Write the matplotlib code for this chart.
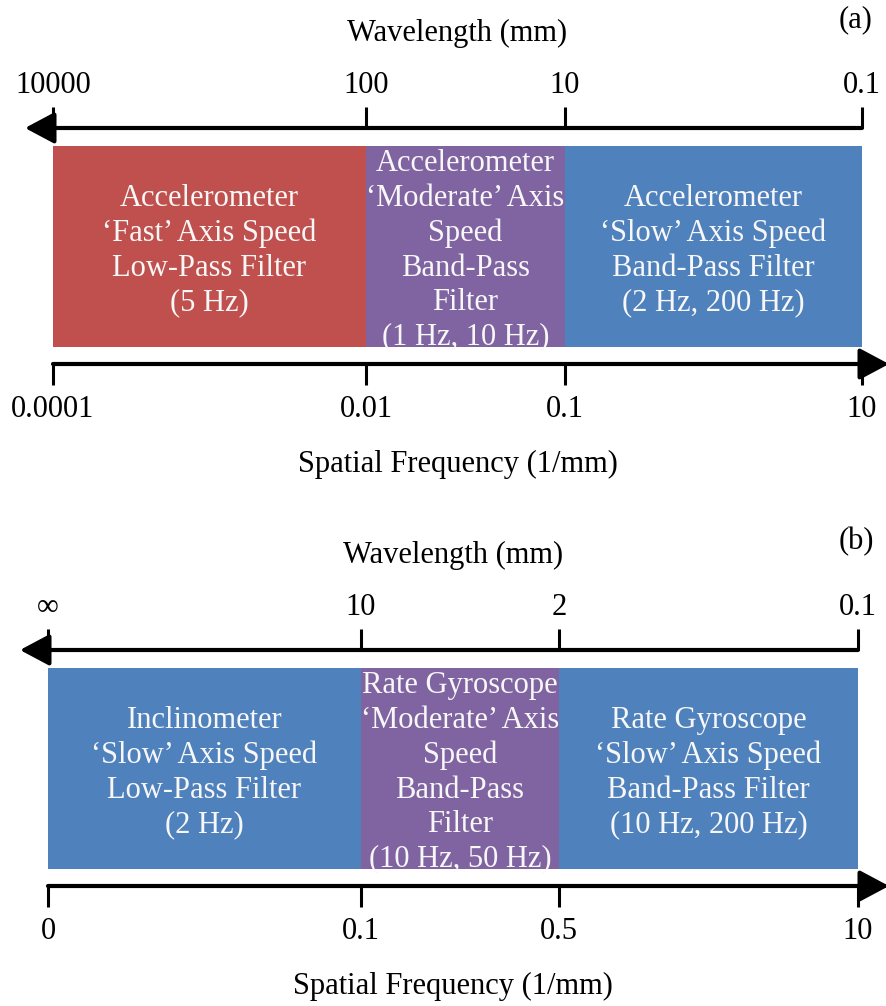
import matplotlib
matplotlib.use("Agg")
import matplotlib.pyplot as plt
from matplotlib.patches import Rectangle

# ---------------- data ----------------
wavelength_ticks_a = ["10000", "100", "10", "0.1"]
frequency_ticks_a = ["0.0001", "0.01", "0.1", "10"]
box_labels_a = [
    "Accelerometer\n\u2018Fast\u2019 Axis Speed\nLow-Pass Filter\n(5 Hz)",
    "Accelerometer\n\u2018Moderate\u2019 Axis\nSpeed\nBand-Pass\nFilter\n(1 Hz, 10 Hz)",
    "Accelerometer\n\u2018Slow\u2019 Axis Speed\nBand-Pass Filter\n(2 Hz, 200 Hz)",
]
box_colors_a = ["#C0504D", "#8064A2", "#4F81BD"]

wavelength_ticks_b = ["\u221e", "10", "2", "0.1"]
frequency_ticks_b = ["0", "0.1", "0.5", "10"]
box_labels_b = [
    "Inclinometer\n\u2018Slow\u2019 Axis Speed\nLow-Pass Filter\n(2 Hz)",
    "Rate Gyroscope\n\u2018Moderate\u2019 Axis\nSpeed\nBand-Pass\nFilter\n(10 Hz, 50 Hz)",
    "Rate Gyroscope\n\u2018Slow\u2019 Axis Speed\nBand-Pass Filter\n(10 Hz, 200 Hz)",
]
box_colors_b = ["#4F81BD", "#8064A2", "#4F81BD"]

panel_tags = ["(a)", "(b)"]
top_title = "Wavelength (mm)"
bottom_title = "Spatial Frequency (1/mm)"

# ---------------- layout (schematic, pixel-like units) ----------------
W, H = 887, 1006
edges_a = [53, 366, 565, 862]
edges_b = [48, 361, 559, 858]

FONT = ["Liberation Serif", "DejaVu Serif"]
FS = 22

fig = plt.figure(figsize=(W / 100, H / 100), dpi=100)
ax = fig.add_axes([0, 0, 1, 1])
ax.set_xlim(0, W)
ax.set_ylim(H, 0)
ax.axis("off")


def draw_panel(dy, edges, wl_ticks, fq_ticks, labels, colors, tag):
    mid = (edges[0] + edges[-1]) / 2
    top_y = 128 + dy
    bot_y = 364 + dy
    box_top = 146 + dy
    box_bot = 347 + dy
    # titles
    ax.text(mid, 41 + dy, top_title, ha="center", va="baseline",
            fontsize=FS, family=FONT)
    ax.text(856, 20 + dy, tag, ha="center", va="center",
            fontsize=FS, family=FONT)
    ax.text(mid, 472 + dy, bottom_title, ha="center", va="baseline",
            fontsize=FS, family=FONT)
    # boxes
    for i, (lab, col) in enumerate(zip(labels, colors)):
        x0, x1 = edges[i], edges[i + 1]
        ax.add_patch(Rectangle((x0, box_top), x1 - x0, box_bot - box_top,
                               facecolor=col, edgecolor="none"))
        ax.text((x0 + x1) / 2, (box_top + box_bot) / 2 + 4, lab,
                ha="center", va="center", fontsize=FS, family=FONT,
                color="#F7F7F7", linespacing=1.25)
    # top (wavelength) arrow pointing left
    ax.annotate("", xy=(edges[0] - 28, top_y), xytext=(edges[-1], top_y),
                arrowprops=dict(arrowstyle="-|>,head_length=0.6,head_width=0.32",
                                lw=3, color="black", shrinkA=0, shrinkB=0,
                                mutation_scale=30))
    # bottom (frequency) arrow pointing right
    ax.annotate("", xy=(W + 2, bot_y), xytext=(edges[0], bot_y),
                arrowprops=dict(arrowstyle="-|>,head_length=0.6,head_width=0.32",
                                lw=3, color="black", shrinkA=0, shrinkB=0,
                                mutation_scale=30),
                annotation_clip=False)
    for x, wl, fq in zip(edges, wl_ticks, fq_ticks):
        ax.plot([x, x], [top_y - 21, top_y], color="black", lw=2.2,
                solid_capstyle="butt")
        ax.plot([x, x], [bot_y, bot_y + 21], color="black", lw=2.2,
                solid_capstyle="butt")
        ax.text(x, 93 + dy, wl, ha="center", va="baseline",
                fontsize=FS, family=FONT)
        ax.text(x, 417 + dy, fq, ha="center", va="baseline",
                fontsize=FS, family=FONT)


draw_panel(0, edges_a, wavelength_ticks_a, frequency_ticks_a,
           box_labels_a, box_colors_a, panel_tags[0])
draw_panel(522, edges_b, wavelength_ticks_b, frequency_ticks_b,
           box_labels_b, box_colors_b, panel_tags[1])

fig.savefig("out.png", dpi=100, facecolor="white")
